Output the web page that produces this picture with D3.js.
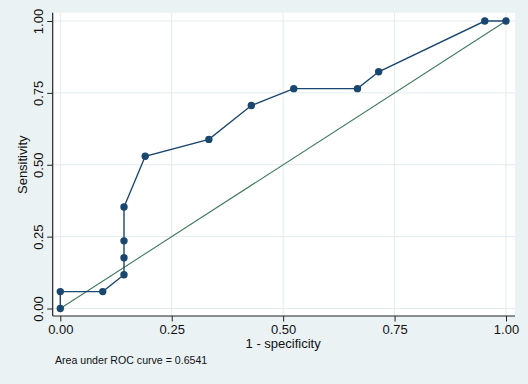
<!DOCTYPE html>
<html><head><meta charset="utf-8">
<script src="https://cdn.jsdelivr.net/npm/d3@7"></script>
<style>body{margin:0;background:#eaf2f3;} svg{display:block;font-family:"Liberation Sans",Arial,Helvetica,sans-serif;}</style>
</head><body>
<script>
const fpr = [0, 0, 0.0952, 0.1429, 0.1429, 0.1429, 0.1429, 0.1905, 0.3333, 0.4286, 0.5238, 0.6667, 0.7143, 0.9524, 1];
const sens = [0, 0.0588, 0.0588, 0.1176, 0.1765, 0.2353, 0.3529, 0.5294, 0.5882, 0.7059, 0.7647, 0.7647, 0.8235, 1, 1];
const tickVals = [0, 0.25, 0.5, 0.75, 1];
const tickLabels = ["0.00", "0.25", "0.50", "0.75", "1.00"];
const xTitle = "1 - specificity";
const yTitle = "Sensitivity";
const note = "Area under ROC curve = 0.6541";

const W = 528, H = 384;
const svg = d3.select("body").append("svg").attr("width", W).attr("height", H);
svg.append("rect").attr("width", W).attr("height", H).attr("fill", "#eaf2f3");

const plot = {l: 52.7, r: 515, t: 12.7, b: 316};
svg.append("rect").attr("x", plot.l).attr("y", plot.t).attr("width", plot.r - plot.l).attr("height", plot.b - plot.t).attr("fill", "#fff");

const x = d3.scaleLinear().domain([0, 1]).range([60.3, 506]);
const y = d3.scaleLinear().domain([0, 1]).range([308.5, 21]);

// grid
svg.append("g").selectAll("line.gx").data(tickVals).join("line")
  .attr("x1", d => x(d)).attr("x2", d => x(d)).attr("y1", plot.t).attr("y2", plot.b)
  .attr("stroke", "#e3ebee").attr("stroke-width", 1);
svg.append("g").selectAll("line.gy").data(tickVals).join("line")
  .attr("y1", d => y(d)).attr("y2", d => y(d)).attr("x1", plot.l).attr("x2", plot.r)
  .attr("stroke", "#e3ebee").attr("stroke-width", 1);

// axes
const fmt = (d, i) => tickLabels[i];
const xAxis = svg.append("g").attr("transform", `translate(0,${plot.b})`)
  .call(d3.axisBottom(x).tickValues(tickVals).tickFormat(fmt).tickSize(5.5).tickPadding(3).tickSizeOuter(0));
const yAxis = svg.append("g").attr("transform", `translate(${plot.l},0)`)
  .call(d3.axisLeft(y).tickValues(tickVals).tickFormat(fmt).tickSize(5.5).tickPadding(2).tickSizeOuter(0));
[xAxis, yAxis].forEach(a => {
  a.select(".domain").remove();
  a.selectAll(".tick line").attr("stroke", "#222");
  a.selectAll("text").attr("fill", "#111").attr("font-size", 13).attr("font-family", "Liberation Sans, Arial, sans-serif");
});
yAxis.selectAll(".tick text")
  .attr("x", null).attr("dy", null)
  .attr("text-anchor", "middle")
  .attr("transform", "translate(-9.5,0) rotate(-90)")
  .attr("y", 0).attr("dy", 0);
svg.append("line").attr("x1", plot.l).attr("x2", plot.r).attr("y1", plot.b).attr("y2", plot.b).attr("stroke", "#222").attr("stroke-width", 1.2);
svg.append("line").attr("x1", plot.l).attr("x2", plot.l).attr("y1", plot.t).attr("y2", plot.b).attr("stroke", "#222").attr("stroke-width", 1.2);

// titles
svg.append("text").attr("x", (x(0) + x(1)) / 2).attr("y", 348).attr("text-anchor", "middle")
  .attr("font-size", 13).attr("fill", "#111").text(xTitle);
svg.append("text").attr("transform", `translate(27,${y(0.5)}) rotate(-90)`).attr("text-anchor", "middle")
  .attr("font-size", 13).attr("fill", "#111").text(yTitle);
svg.append("text").attr("x", 55).attr("y", 363.5).attr("font-size", 10.6).attr("fill", "#111").text(note);

// reference line
svg.append("line").attr("x1", x(0)).attr("y1", y(0)).attr("x2", x(1)).attr("y2", y(1))
  .attr("stroke", "#3f7a5e").attr("stroke-width", 1.1);

// ROC
const pts = fpr.map((f, i) => [f, sens[i]]);
svg.append("path").datum(pts)
  .attr("d", d3.line().x(d => x(d[0])).y(d => y(d[1])))
  .attr("fill", "none").attr("stroke", "#1a476f").attr("stroke-width", 1.4);
svg.append("g").selectAll("circle").data(pts).join("circle")
  .attr("cx", d => x(d[0])).attr("cy", d => y(d[1])).attr("r", 3.7).attr("fill", "#1a476f");
</script>
</body></html>
